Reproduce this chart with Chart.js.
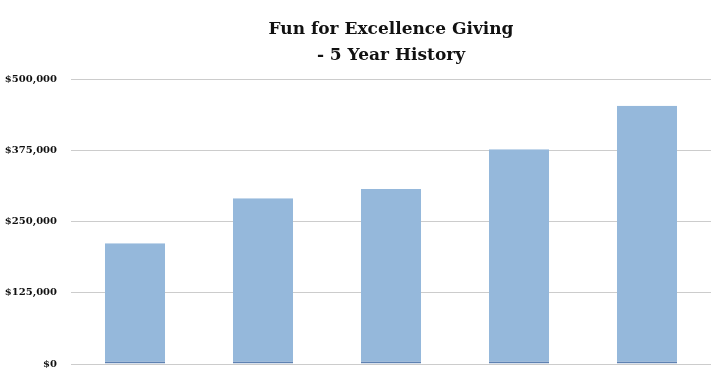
<!DOCTYPE html>
<html>
<head>
<meta charset="utf-8">
<script src="https://cdn.jsdelivr.net/npm/chart.js@4"></script>
<style>
  html, body { margin: 0; padding: 0; background: #fff; }
  #wrap { width: 721px; height: 389px; }
</style>
</head>
<body>
<div id="wrap"><canvas id="givingChart"></canvas></div>
<script>
// Chart data
const years = ['Year 1', 'Year 2', 'Year 3', 'Year 4', 'Year 5'];
const giving = [212000, 291000, 307000, 377000, 453000];
const tickValues = [0, 125000, 250000, 375000, 500000];

const ctx = document.getElementById('givingChart').getContext('2d');

new Chart(ctx, {
  type: 'bar',
  data: {
    labels: years,
    datasets: [
      {
        label: 'Giving',
        data: giving,
        backgroundColor: '#95b8db',
        borderColor: '#5f82b2',
        borderWidth: { top: 0, left: 0, right: 0, bottom: 2 },
        borderSkipped: false,
        barPercentage: 0.47,
        categoryPercentage: 1,
      },
    ],
  },
  options: {
    responsive: true,
    maintainAspectRatio: false,
    animation: false,
    layout: {
      padding: { left: 4, right: 10, top: 0, bottom: 17 },
    },
    scales: {
      x: {
        ticks: { display: false },
        grid: { display: false },
        border: { display: false },
      },
      y: {
        min: 0,
        max: 500000,
        afterBuildTicks: (axis) => {
          axis.ticks = tickValues.map((v) => ({ value: v }));
        },
        afterFit: (axis) => {
          axis.width = 67;
        },
        ticks: {
          padding: 14,
          color: '#111',
          font: { family: 'DejaVu Serif', weight: 'bold', size: 10 },
          callback: (v) => '$' + v.toLocaleString('en-US'),
        },
        grid: { color: '#cccccc', drawTicks: false },
        border: { display: false },
      },
    },
    plugins: {
      legend: { display: false },
      tooltip: { enabled: false },
      title: {
        display: true,
        fullSize: false,
        text: ['Fun for Excellence Giving', '- 5 Year History'],
        color: '#111',
        font: { family: 'DejaVu Serif', weight: 'bold', size: 17, lineHeight: 1.53 },
        padding: { top: 17, bottom: 10 },
      },
    },
  },
});
</script>
</body>
</html>
